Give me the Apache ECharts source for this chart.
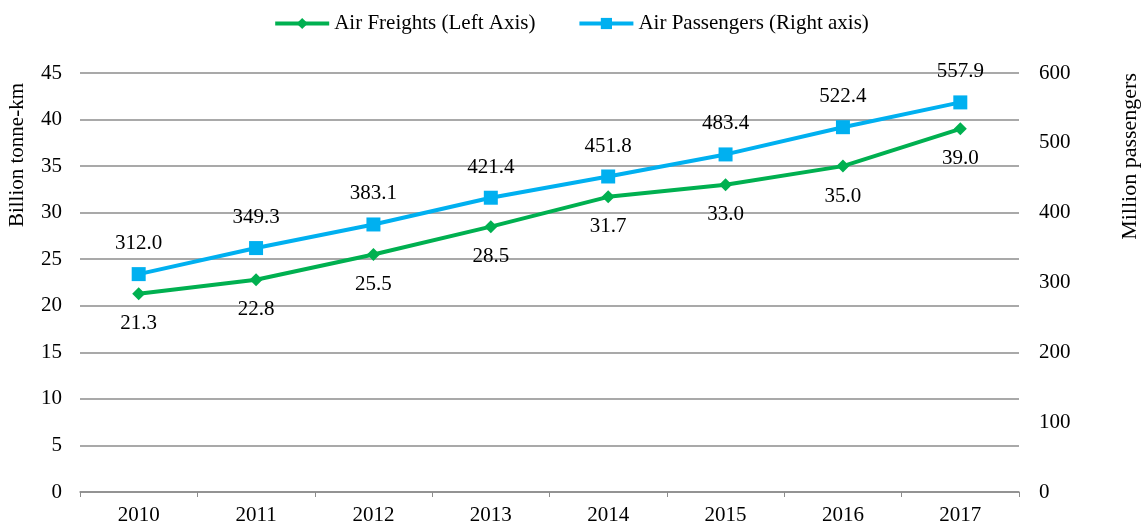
<!DOCTYPE html>
<html>
<head>
<meta charset="utf-8">
<script src="https://cdn.jsdelivr.net/npm/echarts@6/dist/echarts.min.js"></script>
<style>
html, body { margin: 0; padding: 0; background: #fff; }
#chartmain { width: 1142px; height: 526px; }
</style>
</head>
<body>
<div id="chartmain"></div>
<script>
var years = ['2010', '2011', '2012', '2013', '2014', '2015', '2016', '2017'];
var freights = [21.3, 22.8, 25.5, 28.5, 31.7, 33.0, 35.0, 39.0];
var passengers = [312.0, 349.3, 383.1, 421.4, 451.8, 483.4, 522.4, 557.9];

var font = 'Liberation Serif';
var green = '#00b050';
var blue = '#00b0f0';

var option = {
    animation: false,
    textStyle: { fontFamily: font, color: '#000' },
    legend: {
        top: 8,
        left: 'center',
        itemWidth: 54,
        itemHeight: 14,
        itemGap: 42,
        lineStyle: { width: 4 },
        textStyle: { fontFamily: font, fontSize: 21, color: '#000' },
        data: ['Air Freights (Left Axis)', 'Air Passengers (Right axis)']
    },
    grid: { left: 80, right: 123, top: 73, bottom: 33 },
    graphic: [
        {
            type: 'text', left: 7, top: 83, rotation: Math.PI / 2,
            style: { text: 'Billion tonne-km', font: '21px "Liberation Serif"', fill: '#000' }
        },
        {
            type: 'text', left: 1119, top: 73, rotation: Math.PI / 2,
            style: { text: 'Million passengers', font: '22px "Liberation Serif"', fill: '#000' }
        }
    ],
    xAxis: {
        type: 'category',
        data: years,
        boundaryGap: true,
        axisLine: { lineStyle: { color: '#8c8c8c', width: 1.5 } },
        axisTick: { show: true, length: 5, lineStyle: { color: '#8c8c8c' } },
        axisLabel: { fontFamily: font, fontSize: 21, color: '#000', margin: 13 }
    },
    yAxis: [
        {
            type: 'value', min: 0, max: 45, interval: 5,
            axisLine: { show: false },
            axisTick: { show: false },
            splitLine: { lineStyle: { color: '#8c8c8c', width: 1.5 } },
            axisLabel: { fontFamily: font, fontSize: 21, color: '#000', margin: 18 }
        },
        {
            type: 'value', min: 0, max: 600, interval: 100,
            axisLine: { show: false },
            axisTick: { show: false },
            splitLine: { show: false },
            axisLabel: { fontFamily: font, fontSize: 21, color: '#000', margin: 20 }
        }
    ],
    series: [
        {
            name: 'Air Freights (Left Axis)',
            type: 'line',
            yAxisIndex: 0,
            data: freights,
            symbol: 'diamond',
            symbolSize: 13,
            lineStyle: { color: green, width: 4 },
            itemStyle: { color: green },
            label: {
                show: true, position: 'bottom', distance: 13,
                fontFamily: font, fontSize: 21, color: '#000',
                formatter: function(p) { return p.value.toFixed(1); }
            }
        },
        {
            name: 'Air Passengers (Right axis)',
            type: 'line',
            yAxisIndex: 1,
            data: passengers,
            symbol: 'rect',
            symbolSize: 14,
            lineStyle: { color: blue, width: 4 },
            itemStyle: { color: blue },
            label: {
                show: true, position: 'top', distance: 13,
                fontFamily: font, fontSize: 21, color: '#000',
                formatter: function(p) { return p.value.toFixed(1); }
            }
        }
    ]
};

var myChart = echarts.init(document.getElementById('chartmain'));
myChart.setOption(option);
</script>
</body>
</html>
